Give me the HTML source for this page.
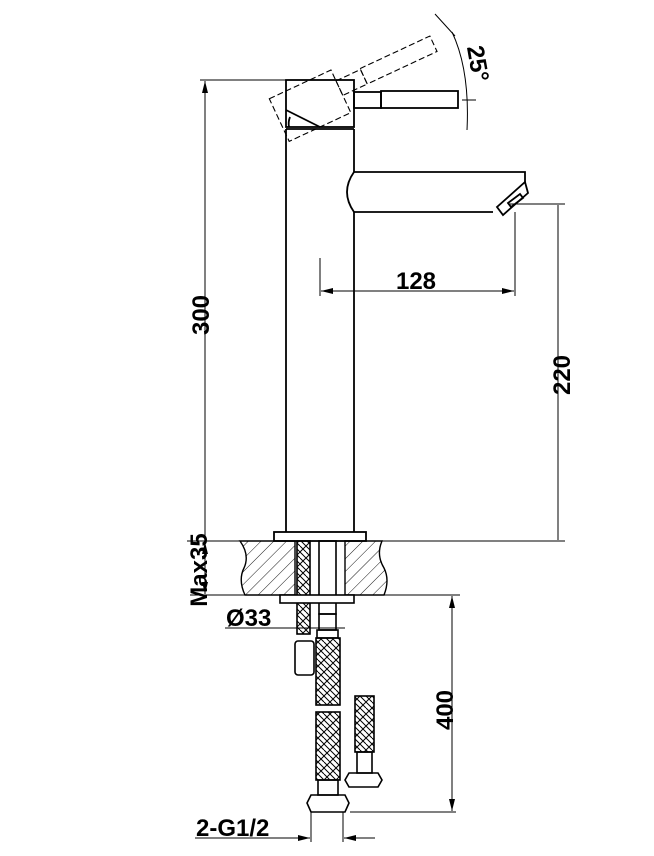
<!DOCTYPE html>
<html><head><meta charset="utf-8"><style>
html,body{margin:0;padding:0;background:#fff;}
svg{display:block;}
text{font-family:"Liberation Sans",Arial,sans-serif;font-weight:bold;fill:#000;}
</style></head><body>
<svg width="654" height="856" viewBox="0 0 654 856" xmlns="http://www.w3.org/2000/svg">
<defs>
<pattern id="hatch" width="9" height="9" patternUnits="userSpaceOnUse" patternTransform="rotate(45)">
<line x1="0" y1="0" x2="0" y2="9" stroke="#000" stroke-width="0.9"/>
</pattern>
<pattern id="braid" width="12" height="12" patternUnits="userSpaceOnUse">
<path d="M0 0 L6 6 L0 12 M12 0 L6 6 L12 12 M6 0 L12 6 M6 12 L0 6" stroke="#000" stroke-width="1" fill="none"/>
</pattern>
<marker id="ar" markerWidth="12" markerHeight="6" refX="12" refY="3" orient="auto" markerUnits="userSpaceOnUse">
<path d="M0 0 L12 3 L0 6 Z" fill="#000"/>
</marker>
</defs>
<g stroke="#000" fill="none" stroke-width="1.8">
<rect x="286" y="80" width="68" height="47" fill="#fff"/>
<path d="M286 110 L320 127"/>
<path d="M290 117 Q288 122 289 127"/>
<line x1="286" y1="129" x2="354" y2="129"/>
<rect x="354" y="92" width="27" height="16"/>
<rect x="381" y="91" width="77" height="17"/>
<g stroke-dasharray="6,3" stroke-width="1.1" transform="rotate(-25 320 127)">
<rect x="286" y="80" width="68" height="47"/>
<rect x="354" y="92" width="27" height="16"/>
<rect x="381" y="91" width="77" height="17"/>
</g>
<line x1="435" y1="14" x2="455" y2="36" stroke-width="1"/>
<path d="M452 32 Q470 70 467 130" stroke-width="1"/>
<line x1="462" y1="100" x2="476" y2="100" stroke-width="1"/>
<line x1="286" y1="129" x2="286" y2="532"/>
<line x1="354" y1="129" x2="354" y2="172"/>
<line x1="354" y1="212" x2="354" y2="532"/>
<path d="M354 172 L525 172 L525 182"/>
<path d="M354 212 L493 212"/>
<path d="M354 172 Q340 192 354 212"/>
<path d="M525 182 L528 193 L503 215 L497 207 Z" fill="#fff"/>
<path d="M508 203 L520 194 L523 198 L511 207 Z"/>
<rect x="274" y="532" width="92" height="9" fill="#fff"/>
</g>
<path d="M240 541 L295 541 L295 595 L245 595 Q238 580 244 568 Q250 555 240 541 Z" fill="url(#hatch)" stroke="#000" stroke-width="1.4"/>
<path d="M345 541 L382 541 Q376 555 384 568 Q390 580 384 595 L345 595 Z" fill="url(#hatch)" stroke="#000" stroke-width="1.4"/>
<g stroke="#000" fill="none" stroke-width="1.6">
<rect x="297" y="541" width="13" height="93" fill="url(#braid)"/>
<rect x="319" y="541" width="17" height="73"/>
<rect x="280" y="595" width="74" height="8" fill="#fff"/>
<rect x="295" y="641" width="19" height="34" rx="3"/>
<rect x="319" y="614" width="17" height="16"/>
<rect x="317" y="630" width="21" height="8"/>
<rect x="316" y="638" width="24" height="67" fill="url(#braid)"/>
<rect x="316" y="712" width="24" height="68" fill="url(#braid)"/>
<rect x="318" y="780" width="20" height="15"/>
<path d="M311 795 L345 795 L349 803 L345 812 L311 812 L307 803 Z"/>
<rect x="355" y="696" width="19" height="56" fill="url(#braid)"/>
<rect x="357" y="752" width="15" height="21"/>
<path d="M349 773 L378 773 L382 780 L378 787 L349 787 L345 780 Z"/>
</g>
<g stroke="#000" stroke-width="1" fill="none">
<line x1="200" y1="80" x2="286" y2="80"/>
<line x1="205" y1="540" x2="205" y2="81" marker-end="url(#ar)"/>
<line x1="187" y1="541" x2="565" y2="541"/>
<line x1="508" y1="204" x2="565" y2="204"/>
<line x1="558" y1="205" x2="558" y2="540"/>
<line x1="320" y1="258" x2="320" y2="296"/>
<line x1="515" y1="212" x2="515" y2="296"/>
<line x1="416" y1="291" x2="321" y2="291" marker-end="url(#ar)"/>
<line x1="416" y1="291" x2="514" y2="291" marker-end="url(#ar)"/>
<line x1="205" y1="568" x2="205" y2="542" marker-end="url(#ar)"/>
<line x1="205" y1="568" x2="205" y2="594" marker-end="url(#ar)"/>
<line x1="190" y1="595" x2="460" y2="595"/>
<line x1="452" y1="700" x2="452" y2="596" marker-end="url(#ar)"/>
<line x1="452" y1="700" x2="452" y2="811" marker-end="url(#ar)"/>
<line x1="350" y1="812" x2="456" y2="812"/>
<line x1="225" y1="628" x2="345" y2="628"/>
<line x1="311" y1="812" x2="311" y2="842"/>
<line x1="343" y1="812" x2="343" y2="842"/>
<line x1="195" y1="838" x2="310" y2="838" marker-end="url(#ar)"/>
<line x1="375" y1="838" x2="344" y2="838" marker-end="url(#ar)"/>
</g>
<text x="416" y="289" font-size="24" text-anchor="middle">128</text>
<text transform="translate(209,315) rotate(-90)" font-size="24" text-anchor="middle">300</text>
<text transform="translate(570,375) rotate(-90)" font-size="24" text-anchor="middle">220</text>
<text transform="translate(453,710) rotate(-90)" font-size="24" text-anchor="middle">400</text>
<text transform="translate(207,570) rotate(-90)" font-size="24" text-anchor="middle">Max35</text>
<text transform="translate(470,65) rotate(80)" font-size="24" text-anchor="middle">25°</text>
<text x="226" y="626" font-size="24">Ø33</text>
<text x="196" y="836" font-size="24">2-G1/2</text>
</svg>
</body></html>
